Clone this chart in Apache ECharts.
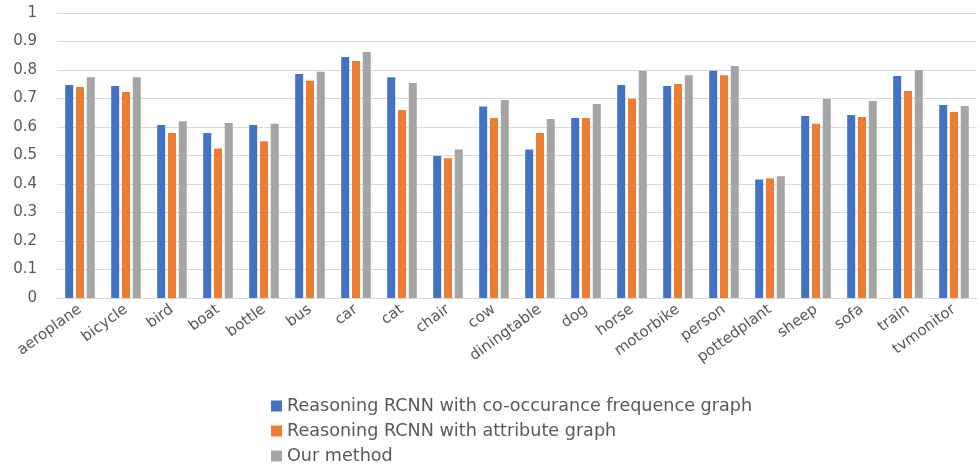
<!DOCTYPE html>
<html><head><meta charset="utf-8">
<script src="https://cdn.jsdelivr.net/npm/echarts@6/dist/echarts.min.js"></script>
<style>html,body{margin:0;padding:0;background:#fff}#c{width:980px;height:466px}</style>
</head><body><div id="c"></div>
<script>
const categories = ["aeroplane","bicycle","bird","boat","bottle","bus","car","cat","chair","cow","diningtable","dog","horse","motorbike","person","pottedplant","sheep","sofa","train","tvmonitor"];
const seriesNames = ["Reasoning RCNN with co-occurance frequence graph","Reasoning RCNN with attribute graph","Our method"];
const coOccurrence = [0.747,0.744,0.607,0.579,0.607,0.786,0.846,0.775,0.498,0.672,0.521,0.632,0.747,0.744,0.797,0.416,0.639,0.642,0.779,0.677];
const attribute = [0.740,0.723,0.579,0.525,0.550,0.762,0.832,0.660,0.490,0.632,0.579,0.632,0.699,0.751,0.782,0.420,0.611,0.635,0.726,0.653];
const ourMethod = [0.775,0.775,0.620,0.614,0.611,0.794,0.863,0.754,0.521,0.695,0.628,0.681,0.797,0.782,0.814,0.427,0.698,0.691,0.800,0.674];
const colors = ["#4472C4","#ED7D31","#A5A5A5"];
const font = "DejaVu Sans";
const chart = echarts.init(document.getElementById('c'));
const data = [coOccurrence, attribute, ourMethod];
chart.setOption({
  animation:false,
  color: colors,
  grid:{left:57,right:3,top:13,bottom:168},
  legend:{orient:'vertical',left:266,top:392,height:78,itemWidth:11,itemHeight:11,itemGap:7,icon:'rect',
    textStyle:{fontFamily:font,fontSize:17.6,color:'#595959'},data:seriesNames},
  xAxis:{type:'category',data:categories,
    axisLine:{lineStyle:{color:'#d9d9d9'}},axisTick:{show:false},
    axisLabel:{interval:0,rotate:36,fontFamily:font,fontSize:15,color:'#595959',margin:10}},
  yAxis:{type:'value',min:0,max:1,interval:0.1,
    axisLabel:{fontFamily:font,fontSize:15,color:'#595959',margin:20,formatter:v=>String(Math.round(v*10)/10)},
    splitLine:{lineStyle:{color:'#d9d9d9'}},axisLine:{show:false},axisTick:{show:false}},
  series: seriesNames.map((n,i)=>({name:n,type:'bar',data:data[i],barWidth:8,barGap:'35%',
    itemStyle:{color:colors[i]}}))
});
</script></body></html>
